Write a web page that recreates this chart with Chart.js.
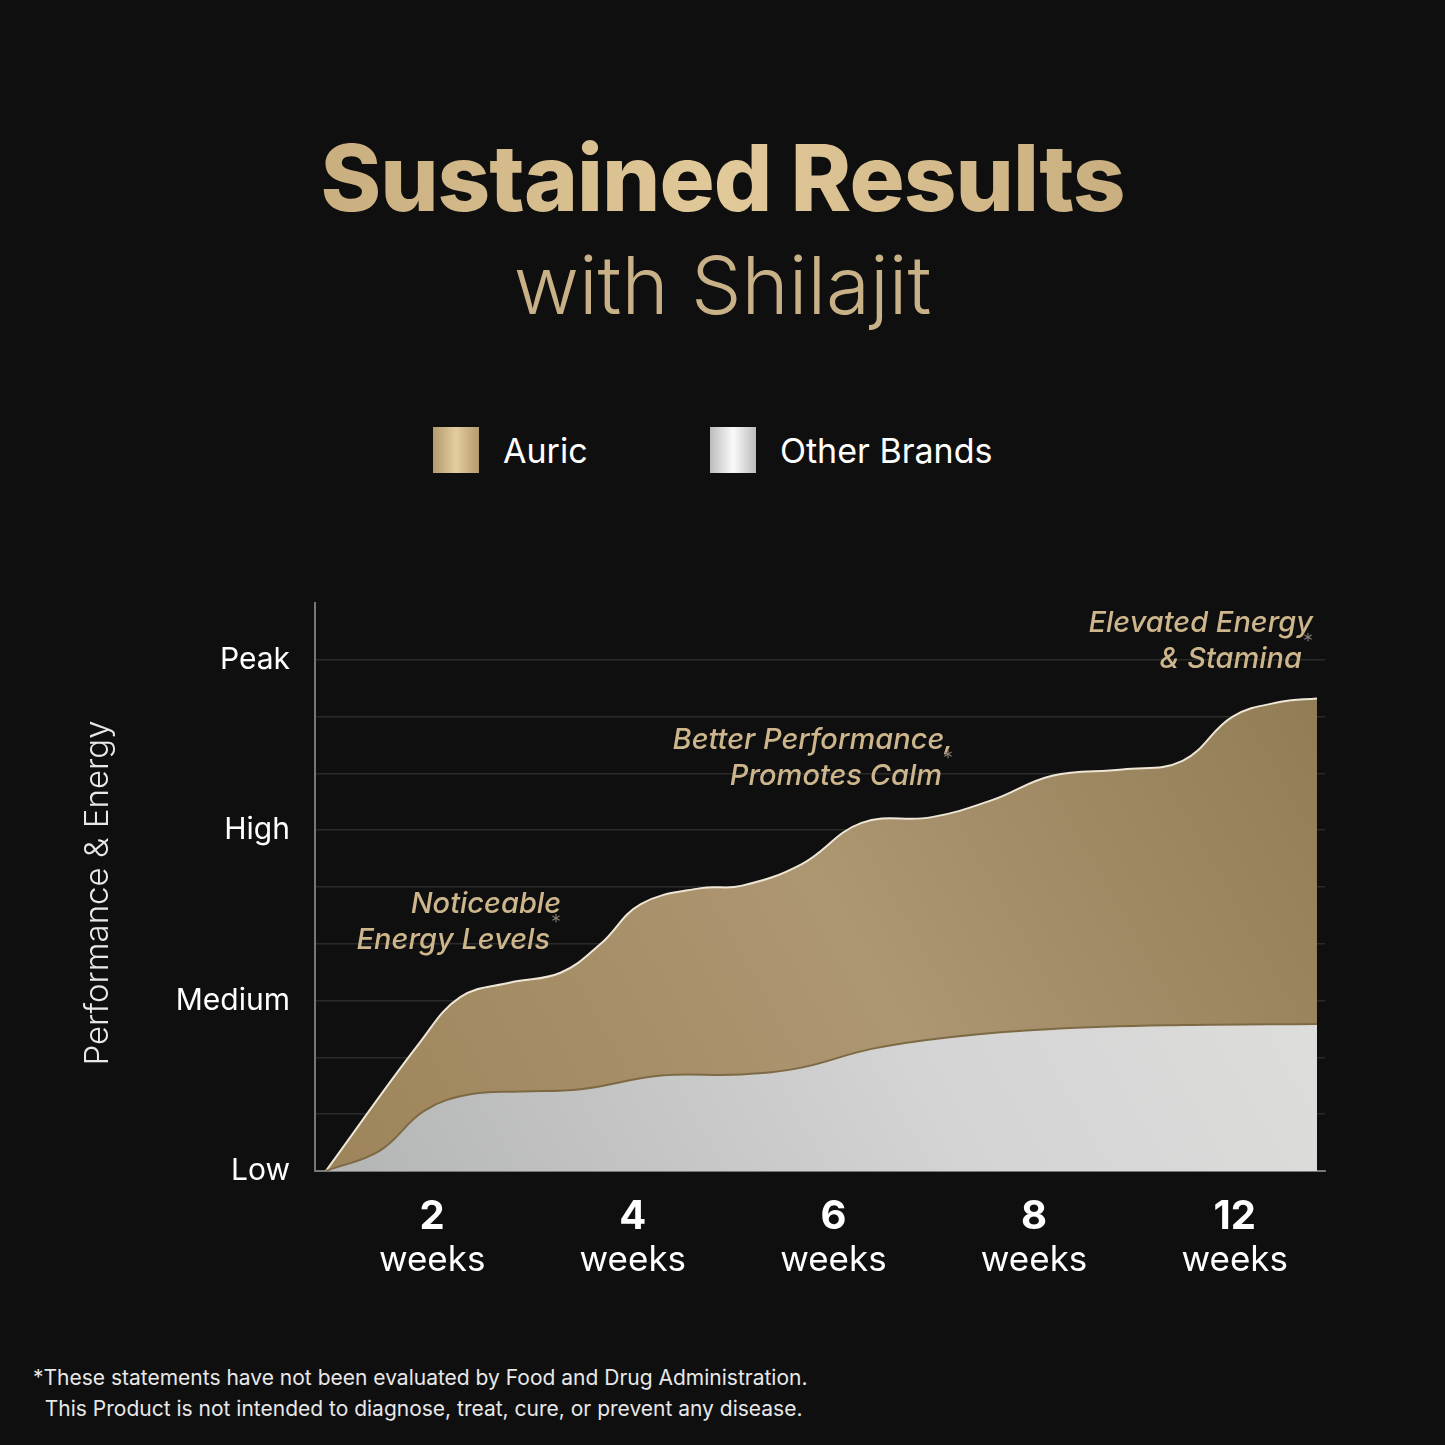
<!DOCTYPE html>
<html><head><meta charset="utf-8">
<script src="https://cdn.jsdelivr.net/npm/chart.js@4"></script>
<style>
html,body{margin:0;background:#0f0f0f;width:1445px;height:1445px;overflow:hidden;font-family:Inter,"Noto Sans",sans-serif}
.t1{position:absolute;top:122px;left:0;width:1445px;text-align:center;font-size:92px;font-weight:800;letter-spacing:-1px;
 background:linear-gradient(90deg,#b59a6a,#e2c99a 50%,#b59a6a);-webkit-background-clip:text;color:transparent}
.t2{position:absolute;top:236px;left:0;width:1445px;text-align:center;font-size:80px;font-weight:300;color:#c8b087}
.lg{position:absolute;top:427px;height:46px;display:flex;align-items:center;color:#fff;font-size:34px}
.sw{width:46px;height:46px;margin-right:24px}
.ft{position:absolute;left:33px;top:1362px;color:#e8e8e8;font-size:21px;line-height:31px}
canvas{position:absolute;left:0;top:560px}
</style></head><body>
<div class="t1">Sustained Results</div>
<div class="t2">with Shilajit</div>
<div class="lg" style="left:433px"><div class="sw" style="background:linear-gradient(90deg,#b49b6e,#e3cc9e,#b49b6e)"></div>Auric</div>
<div class="lg" style="left:710px"><div class="sw" style="background:linear-gradient(90deg,#bcbcbc,#fafafa,#bcbcbc)"></div>Other Brands</div>
<div class="ft">*These statements have not been evaluated by Food and Drug Administration.<br>&nbsp;&nbsp;This Product is not intended to diagnose, treat, cure, or prevent any disease.</div>
<canvas id="c" width="1445" height="760" style="width:1445px;height:760px"></canvas>
<script>
const weekLabels = ["2", "4", "6", "8", "12"];
const levelLabels = {0: "Low", 3: "Medium", 6: "High", 9: "Peak"};
const auricX = [0.47,0.94,1.14,1.39,1.64,1.84,2.04,2.34,2.54,2.84,3.14,3.49,3.79,4.09,4.44,4.74,4.99,5.23,5.41];
const auricY = [0,2.27,3.06,3.32,3.49,4.0,4.7,4.98,5.02,5.4,6.13,6.23,6.53,6.96,7.07,7.22,8.0,8.26,8.32];
const otherX = [0.47,0.74,0.96,1.19,1.44,1.74,2.14,2.54,2.84,3.19,3.59,4.09,4.74,5.41];
const otherY = [0,0.36,1.06,1.35,1.4,1.44,1.68,1.7,1.82,2.15,2.36,2.5,2.57,2.59];
const notes = [
  {lines:["Noticeable","Energy Levels"], x:561, y:903},
  {lines:["Better Performance,","Promotes Calm"], x:953, y:739},
  {lines:["Elevated Energy","& Stamina"], x:1313, y:622}
];

const grad = (ctx, area, stops) => {
  const g = ctx.createLinearGradient(area.left, area.bottom, area.right, area.top);
  stops.forEach((c, i) => g.addColorStop(i / (stops.length - 1), c));
  return g;
};

const decor = {
  id: "decor",
  afterDraw(chart) {
    const ctx = chart.ctx, xs = chart.scales.x;
    ctx.save();
    ctx.textAlign = "center";
    ctx.fillStyle = "#fff";
    weekLabels.forEach((w, i) => {
      const px = xs.getPixelForValue(i + 1);
      ctx.font = "700 40px Inter";
      ctx.fillText(w, px, 1229 - 560);
      ctx.font = "400 35px Inter";
      ctx.fillText("weeks", px, 1271 - 560);
    });
    ctx.save();
    ctx.translate(108, 893 - 560);
    ctx.rotate(-Math.PI / 2);
    ctx.font = "300 33px Inter";
    ctx.fillStyle = "#e8e8e8";
    ctx.fillText("Performance & Energy", 0, 0);
    ctx.restore();
    ctx.textAlign = "right";
    notes.forEach(n => {
      n.lines.forEach((l, i) => {
        const y = n.y - 560 + i * 36;
        let x = n.x;
        if (i === 1) {
          ctx.font = "300 20px Inter";
          ctx.fillStyle = "#8a8378";
          ctx.fillText("*", x, y - 10);
          x -= 11;
        }
        ctx.font = "italic 500 29px Inter";
        ctx.fillStyle = "#cdb58c";
        ctx.fillText(l, x, y + 10);
      });
    });
    ctx.restore();
  }
};

new Chart(document.getElementById("c"), {
  type: "line",
  data: {
    datasets: [
      {
        label: "Other Brands",
        data: otherX.map((x, i) => ({x, y: otherY[i]})),
        fill: "origin",
        borderColor: "#7d6a45",
        borderWidth: 2,
        tension: 0.4,
        pointRadius: 0,
        order: 0,
        backgroundColor: c => c.chart.chartArea ? grad(c.chart.ctx, c.chart.chartArea, ["#b3b5b4", "#d3d4d3", "#e3e3e1"]) : "#ccc"
      },
      {
        label: "Auric",
        data: auricX.map((x, i) => ({x, y: auricY[i]})),
        fill: "origin",
        borderColor: "#eee6d6",
        borderWidth: 2,
        tension: 0.4,
        pointRadius: 0,
        order: 1,
        backgroundColor: c => c.chart.chartArea ? grad(c.chart.ctx, c.chart.chartArea, ["#9d845a", "#ad9672", "#8e7a52"]) : "#a08a60"
      }
    ]
  },
  options: {
    responsive: false,
    animation: false,
    layout: {padding: {top: 28, right: 120, left: 0, bottom: 0}},
    plugins: {legend: {display: false}, tooltip: {enabled: false}},
    scales: {
      x: {
        type: "linear", min: 0.416, max: 5.45,
        afterFit: s => { s.height = 149; },
        grid: {display: false},
        border: {color: "#777", width: 2},
        ticks: {display: false}
      },
      y: {
        min: 0, max: 10,
        afterFit: s => { s.width = 315; },
        grid: {color: c => c.tick.value === 0 || c.tick.value === 10 ? "rgba(0,0,0,0)" : "#2a2a2a", drawTicks: false, lineWidth: 1.5},
        border: {color: "#777", width: 2},
        ticks: {
          stepSize: 1, padding: 25, color: "#fff",
          font: {family: "Inter", size: 30},
          callback: v => levelLabels[v] || ""
        }
      }
    }
  },
  plugins: [decor]
});
</script>
</body></html>
